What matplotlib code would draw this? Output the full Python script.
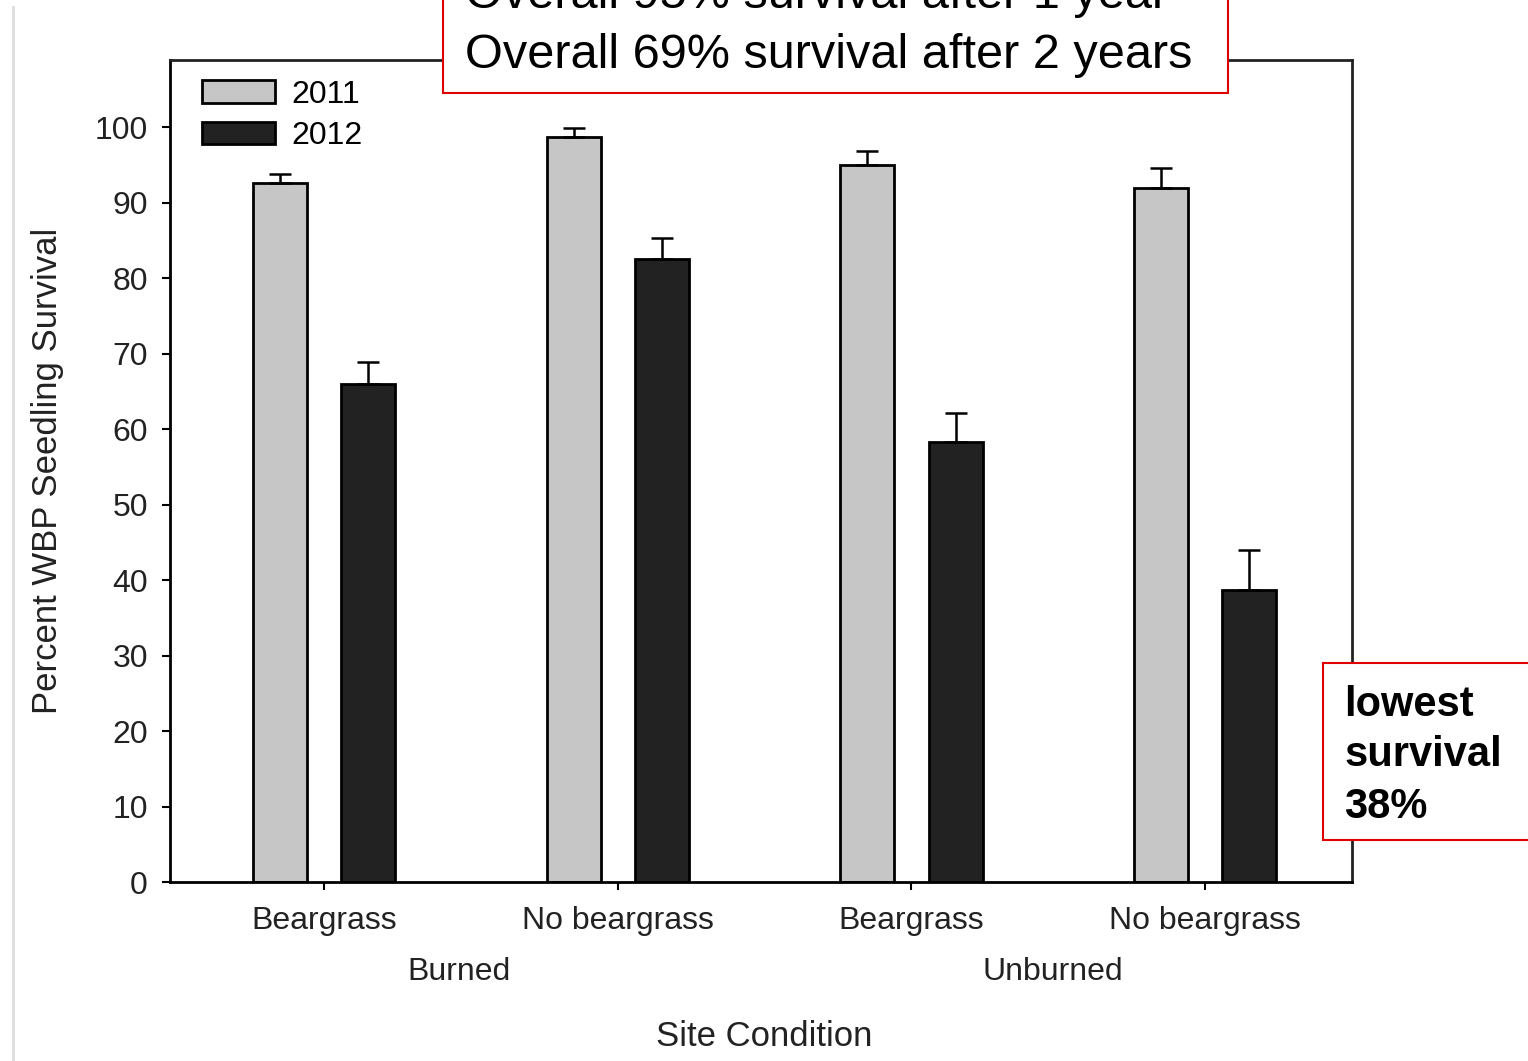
import matplotlib.pyplot as plt
from matplotlib.patches import Rectangle, Patch
from matplotlib.lines import Line2D
import numpy as np

plt.rcParams['font.family'] = ['Liberation Sans', 'DejaVu Sans']

# survival data per site condition
sites = ['Beargrass', 'No beargrass', 'Beargrass', 'No beargrass']
burn = ['Burned', 'Unburned']
surv_2011 = [92.6, 98.7, 95.0, 91.9]
err_2011 = [1.2, 1.2, 1.8, 2.7]
surv_2012 = [66.0, 82.5, 58.3, 38.7]
err_2012 = [2.9, 2.8, 3.8, 5.3]
yticks = list(range(0, 101, 10))

fig = plt.figure(figsize=(15.28, 10.61), dpi=100)
ax = fig.add_axes([0.1113, 0.1687, 0.7736, 0.7747])

x = np.arange(len(sites))
w = 0.184
off = 0.15
ax.bar(x - off, surv_2011, w, color='#c6c6c6', edgecolor='black', linewidth=2,
       yerr=[np.zeros(4), err_2011], error_kw=dict(ecolor='black', elinewidth=1.8, capsize=8, capthick=1.8),
       zorder=2)
ax.bar(x + off, surv_2012, w, color='#222222', edgecolor='black', linewidth=2,
       yerr=[np.zeros(4), err_2012], error_kw=dict(ecolor='black', elinewidth=1.8, capsize=8, capthick=1.8),
       zorder=2)

ax.set_xlim(-0.524, 3.5)
ax.set_ylim(0, 108.9)
ax.set_yticks(yticks)
ax.set_xticks(x)
ax.set_xticklabels(sites)
ax.tick_params(axis='both', direction='out', length=6, width=1.5, labelsize=23,
               labelcolor='#222222', pad=10)
ax.tick_params(axis='x', pad=11)
for s in ax.spines.values():
    s.set_linewidth(2)
    s.set_color('#222222')
ax.spines['left'].set_color('black')
ax.spines['bottom'].set_color('black')

ax.set_ylabel('Percent WBP Seedling Survival', fontsize=25, color='#222222', labelpad=22)
ax.text(1.5, -0.188, 'Site Condition', transform=ax.get_xaxis_transform(),
        ha='center', va='center', fontsize=25, color='#222222')
for pos, lab in zip([0.46, 2.48], burn):
    ax.text(pos, -0.11, lab, transform=ax.get_xaxis_transform(),
            ha='center', va='center', fontsize=23, color='#222222')

handles = [Patch(facecolor='#c6c6c6', edgecolor='black', linewidth=2, label='2011'),
           Patch(facecolor='#222222', edgecolor='black', linewidth=2, label='2012')]
ax.legend(handles=handles, loc='upper left', bbox_to_anchor=(0.027, 0.976), frameon=False,
          fontsize=23, handlelength=2.3, handleheight=0.7, labelspacing=0.36,
          handletextpad=0.5, borderpad=0, borderaxespad=0)

# annotation boxes
fig.add_artist(Rectangle((0.2899, 0.9123), 0.5137, 0.2, transform=fig.transFigure,
                         facecolor='white', edgecolor='#e00000', linewidth=1.5, zorder=5))
fig.text(0.3043, 0.9925, 'Overall 95% survival after 1 year', fontsize=35,
         va='baseline', zorder=6)
fig.text(0.3043, 0.936, 'Overall 69% survival after 2 years', fontsize=35,
         va='baseline', zorder=6)

fig.add_artist(Rectangle((0.8658, 0.2083), 0.2, 0.1668, transform=fig.transFigure,
                         facecolor='white', edgecolor='#e00000', linewidth=1.5, zorder=5))
for yy, t in zip([716, 766, 818], ['lowest', 'survival', '38%']):
    fig.text(0.8796, 1 - yy / 1061, t, fontsize=30, fontweight='bold', va='baseline', zorder=6)

fig.add_artist(Line2D([0.0085, 0.0085], [0, 0.993], transform=fig.transFigure,
                      color='#dddddd', linewidth=2))

fig.savefig('out.png', dpi=100)
